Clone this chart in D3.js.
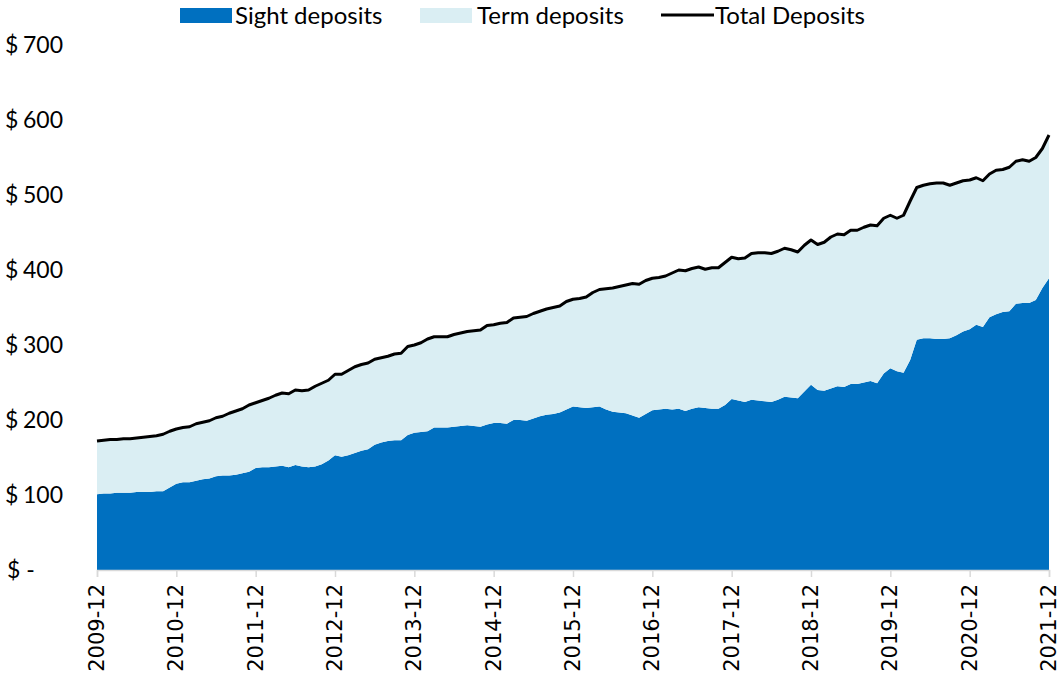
<!DOCTYPE html>
<html><head><meta charset="utf-8">
<script src="https://cdn.jsdelivr.net/npm/d3@7"></script>
<style>body{margin:0;background:#fff}svg{display:block}</style>
</head><body>
<svg id="c" width="1061" height="681"></svg>
<script>
// Monthly, 2009-12 .. 2021-12 (145 points), $ billions
const totalDeposits = [
172,173,174,174,175,175,176,177,178,179,181,185,188,
190,191,195,197,199,203,205,209,212,215,220,223,
226,229,233,236,235,240,239,240,245,249,253,261,
261,266,271,274,276,281,283,285,288,289,298,300,
303,308,311,311,311,314,316,318,319,320,326,327,
329,330,336,337,338,342,345,348,350,352,358,361,
362,364,370,374,375,376,378,380,382,381,386,389,
390,392,396,400,399,402,404,401,403,403,410,417,
415,416,422,423,423,422,425,429,427,424,433,440,
434,437,444,448,447,453,453,457,460,459,469,473,
469,473,492,510,513,515,516,516,513,516,519,520,
523,519,528,533,534,537,545,547,545,550,562,580];
const sightDeposits = [
101,102,102,103,103,103,104,104,104,105,105,110,115,
117,117,119,121,122,125,126,126,127,129,131,136,
137,137,138,139,137,140,138,137,138,141,146,153,
151,153,156,159,161,167,170,172,173,173,180,183,
184,185,190,190,190,191,192,193,192,191,194,196,
196,195,200,200,199,202,205,207,208,210,214,218,
217,216,217,218,214,211,210,209,206,203,208,213,
214,215,214,215,212,215,217,216,215,215,220,228,
226,224,227,226,225,224,227,231,230,229,238,247,
240,239,242,245,244,248,248,250,252,249,262,269,
265,263,280,307,309,309,308,308,309,313,318,321,
327,324,337,341,344,345,355,356,356,360,376,389];
const termDeposits = totalDeposits.map((t,i)=>t-sightDeposits[i]);
const xTickLabels = ["2009-12","2010-12","2011-12","2012-12","2013-12","2014-12","2015-12","2016-12","2017-12","2018-12","2019-12","2020-12","2021-12"];
const yTicks = [0,100,200,300,400,500,600,700];
const seriesNames = ["Sight deposits","Term deposits","Total Deposits"];

const svg = d3.select("#c");
const x = d3.scaleLinear().domain([0, totalDeposits.length-1]).range([97, 1049]);
const y = d3.scaleLinear().domain([0, 700]).range([570, 45]);
const data = totalDeposits.map((t,i)=>({i, sight: sightDeposits[i], term: termDeposits[i], total: t}));
const stack = d3.stack().keys(["sight","term"])(data);
const colors = {sight:"#0070C0", term:"#DAEEF3"};
const area = d3.area().x(d=>x(d.data.i)).y0(d=>y(d[0])).y1(d=>y(d[1]));
svg.append("g").selectAll("path").data(stack).join("path")
  .attr("fill", d=>colors[d.key]).attr("d", area);

svg.append("path").datum(data)
  .attr("fill","none").attr("stroke","#000").attr("stroke-width",3).attr("stroke-linejoin","round")
  .attr("d", d3.line().x(d=>x(d.i)).y(d=>y(d.total)));

// x axis
const xt = xTickLabels.map((l,k)=>({l, i:k*12}));
const xa = svg.append("g").attr("transform","translate(0,570)")
  .call(d3.axisBottom(x).tickValues(xt.map(d=>d.i)).tickSize(7).tickFormat(""));
xa.select(".domain").attr("stroke","#D9D9D9").attr("stroke-width",1.5);
xa.selectAll(".tick line").attr("stroke","#D9D9D9").attr("stroke-width",1.5);
svg.append("g").selectAll("text").data(xt).join("text")
  .attr("transform", d=>`translate(${x(d.i)+7},584) rotate(-90)`)
  .attr("text-anchor","end")
  .style("font-family","DejaVu Sans").style("font-size","21px").attr("fill","#000")
  .text(d=>d.l);

// y labels (accounting style)
const yl = svg.append("g").style("font-family","Lato").style("font-size","23px").attr("fill","#000");
yTicks.forEach(v=>{
  const yy = y(v)+8;
  if (v===0) {
    yl.append("text").attr("x",7).attr("y",yy).text("$ -");
  } else {
    yl.append("text").attr("x",5).attr("y",yy).text("$");
    yl.append("text").attr("x",63).attr("y",yy).attr("text-anchor","end").text(v);
  }
});

// legend
const lg = svg.append("g").style("font-family","Lato").style("font-size","24px");
lg.append("rect").attr("x",180).attr("y",8).attr("width",52).attr("height",15).attr("fill",colors.sight);
lg.append("text").attr("x",235).attr("y",24).text(seriesNames[0]);
lg.append("rect").attr("x",420).attr("y",8).attr("width",52).attr("height",15).attr("fill",colors.term);
lg.append("text").attr("x",477).attr("y",24).text(seriesNames[1]);
lg.append("line").attr("x1",661).attr("x2",714).attr("y1",15).attr("y2",15).attr("stroke","#000").attr("stroke-width",3);
lg.append("text").attr("x",715).attr("y",24).text(seriesNames[2]);
</script>
</body></html>
